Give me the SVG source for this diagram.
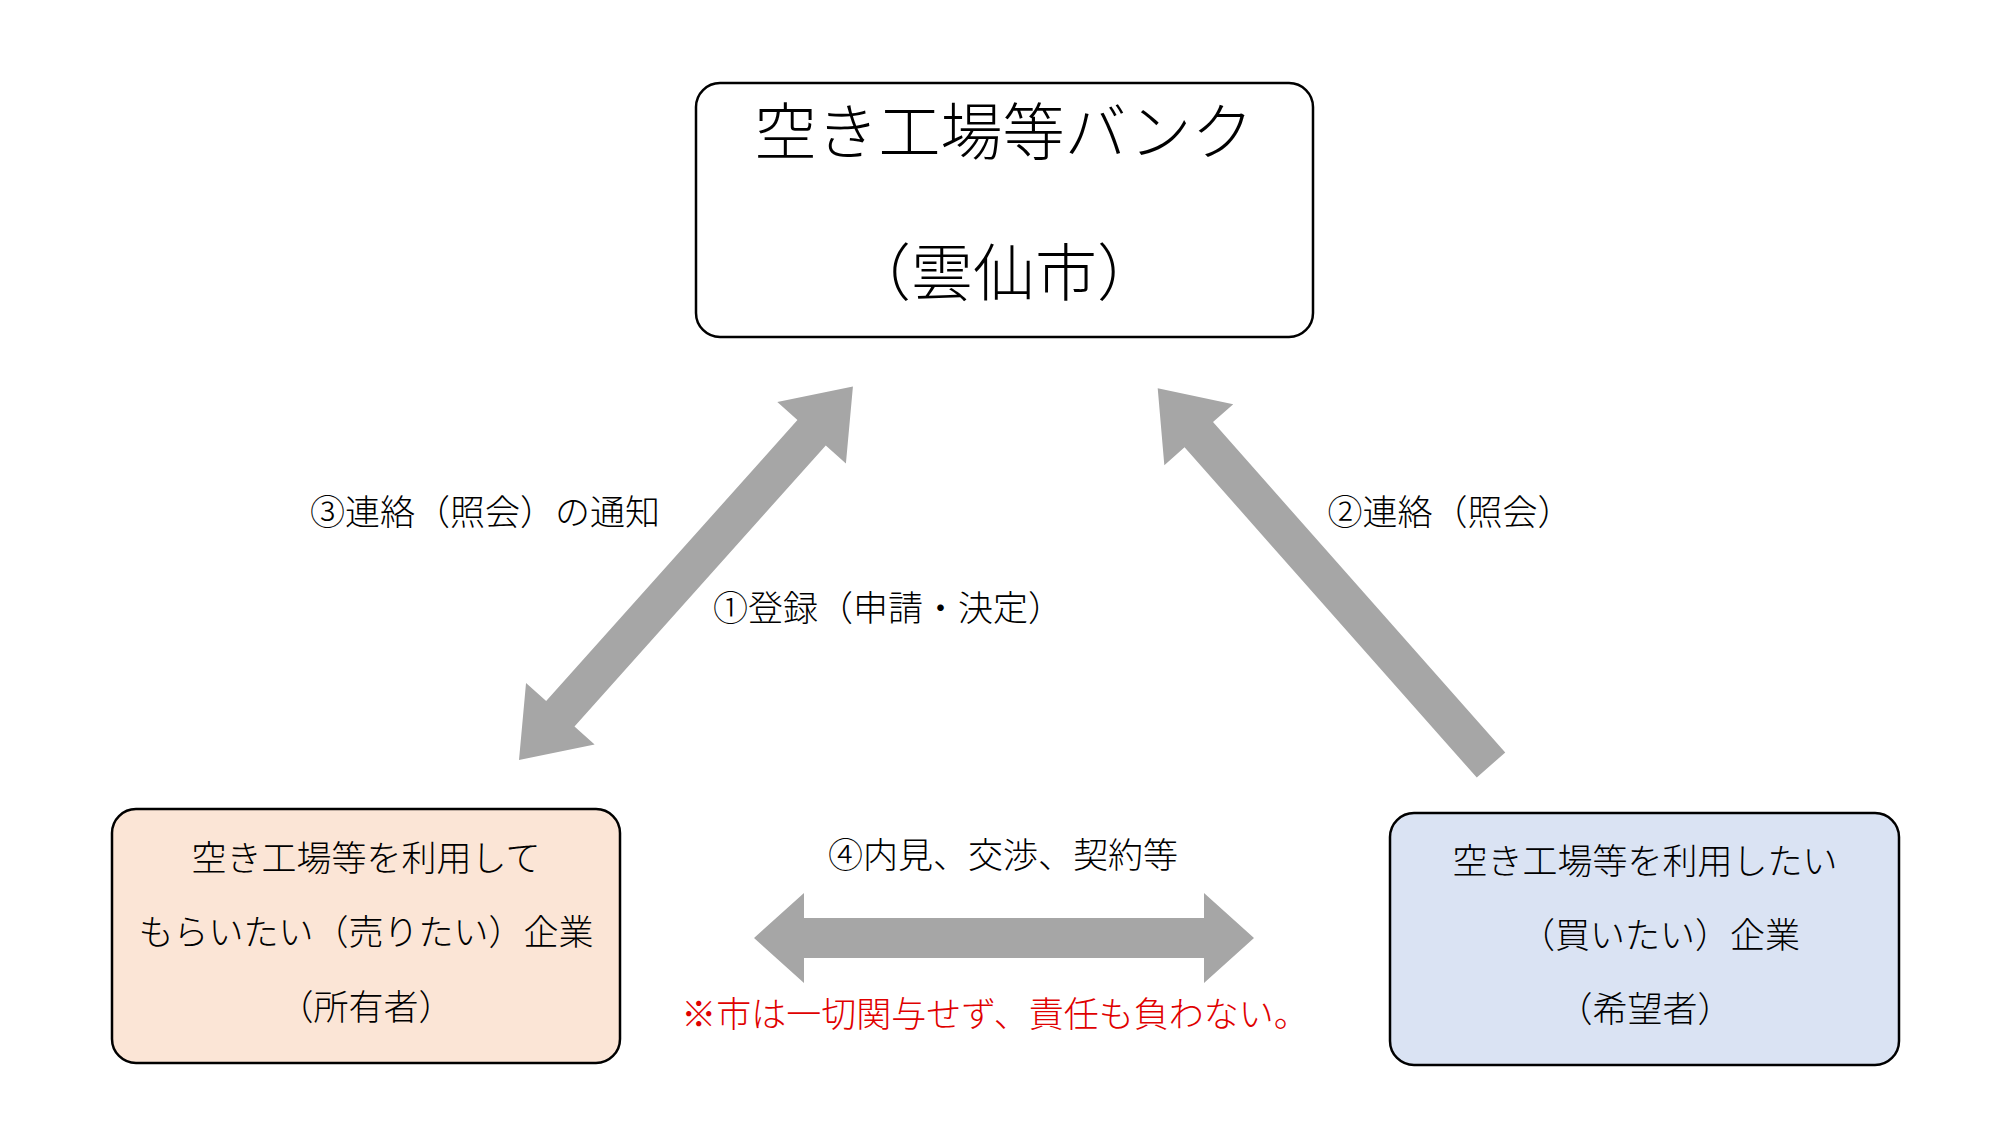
<svg xmlns="http://www.w3.org/2000/svg" width="2000" height="1125" viewBox="0 0 2000 1125">
<style>
text{font-family:"Noto Sans CJK JP","Noto Sans CJK SC",sans-serif;fill:#000;text-anchor:middle;font-weight:300}
.box{stroke:#000;stroke-width:2.5}
.arr{fill:#A6A6A6}
.lbl{font-size:35px}
</style>
<rect width="2000" height="1125" fill="#fff"/>
<g id="bank"><rect class="box" x="696" y="83" width="617" height="254" rx="24" fill="#fff"/>
<text x="1004" y="155" font-size="62">空き工場等バンク</text>
<text x="1004" y="296" font-size="62">（雲仙市）</text></g>
<g id="owner"><rect class="box" x="112" y="809" width="508" height="254" rx="24" fill="#FBE5D6"/>
<text class="lbl" x="366" y="871">空き工場等を利用して</text>
<text class="lbl" x="366" y="945">もらいたい（売りたい）企業</text>
<text class="lbl" x="366" y="1020">（所有者）</text></g>
<g id="buyer"><rect class="box" x="1390" y="813" width="509" height="252" rx="24" fill="#DAE3F3"/>
<text class="lbl" x="1645" y="874">空き工場等を利用したい</text>
<text class="lbl" x="1660" y="948">（買いたい）企業</text>
<text class="lbl" x="1645" y="1022">（希望者）</text></g>
<g id="connectors">
<polygon class="arr" transform="translate(519,760) rotate(-48.2)" points="0,0 62,-46 62,-19 439,-19 439,-46 501,0 439,46 439,19 62,19 62,46"/>
<polygon class="arr" transform="translate(1491,765) rotate(-131.5)" points="0,-19 441,-19 441,-46 503,0 441,46 441,19 0,19"/>
<polygon class="arr" transform="translate(754,938)" points="0,0 50,-45 50,-20 450,-20 450,-45 500,0 450,45 450,20 50,20 50,45"/>
</g>
<g id="labels">
<text class="lbl" x="485" y="525">③連絡（照会）の通知</text>
<text class="lbl" x="888" y="621">①登録（申請・決定）</text>
<text class="lbl" x="1450" y="525">②連絡（照会）</text>
<text class="lbl" x="1003" y="868">④内見、交渉、契約等</text>
<text class="lbl" x="995" y="1027" style="fill:#E00000">※市は一切関与せず、責任も負わない。</text>
</g>
</svg>
